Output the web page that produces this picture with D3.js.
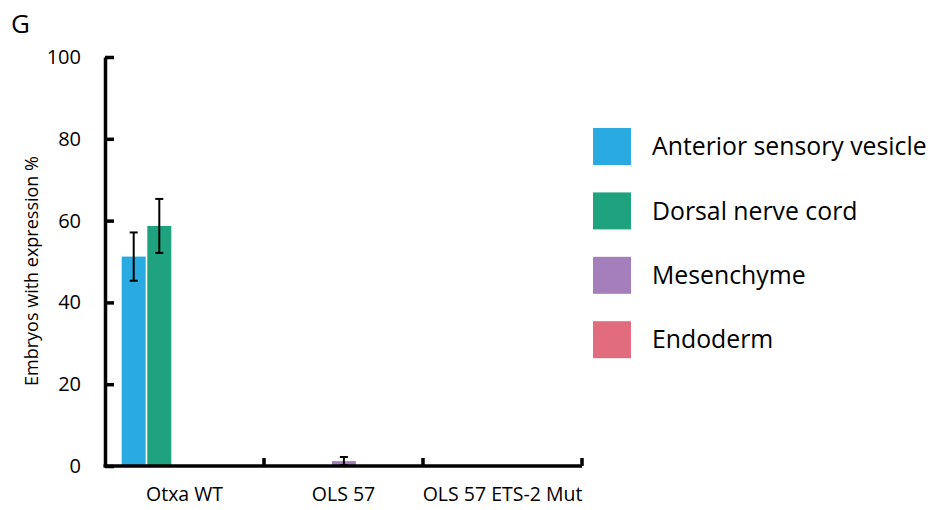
<!DOCTYPE html>
<html>
<head>
<meta charset="utf-8">
<script src="https://cdn.jsdelivr.net/npm/d3@7"></script>
<style>
  html, body { margin: 0; padding: 0; background: #fff; }
  svg { display: block; font-family: "Open Sans", "Noto Sans", sans-serif; }
</style>
</head>
<body>
<svg id="chart" width="932" height="510"></svg>
<script>
// Groups along the x axis
const categories = ["Otxa WT", "OLS 57", "OLS 57 ETS-2 Mut"];
// Expression domains (one bar per domain within each group)
const series = ["Anterior sensory vesicle", "Dorsal nerve cord", "Mesenchyme", "Endoderm"];
const colors = ["#29abe2", "#1fa37e", "#a47fbc", "#e06c7e"];
// Percent of embryos with expression, per series, per group
const asvValues  = [51.2, 0, 0];
const dncValues  = [58.7, 0, 0];
const mesValues  = [0, 1.2, 0];
const endoValues = [0, 0, 0];
// Error bar half-widths
const asvErr  = [5.9, 0, 0];
const dncErr  = [6.6, 0, 0];
const mesErr  = [0, 1.0, 0];
const endoErr = [0, 0, 0];
const yTicks = [0, 20, 40, 60, 80, 100];

const valuesBySeries = [asvValues, dncValues, mesValues, endoValues];
const errBySeries = [asvErr, dncErr, mesErr, endoErr];

const rows = [];
series.forEach((s, si) => {
  categories.forEach((c, ci) => {
    rows.push({ series: s, cat: c, value: valuesBySeries[si][ci], err: errBySeries[si][ci], color: colors[si] });
  });
});

const svg = d3.select("#chart");
const plotLeft = 105, plotRight = 582, plotTop = 57, plotBottom = 466;

const x = d3.scaleBand().domain(categories).range([plotLeft, plotRight]).padding(0);
const inner = d3.scaleBand().domain(series).range([16.7, 117.5]).paddingInner(0.0625);
const y = d3.scaleLinear().domain([0, 100]).range([plotBottom, plotTop]);

// Bars
svg.append("g").selectAll("rect")
  .data(rows.filter(d => d.value > 0))
  .join("rect")
  .attr("x", d => x(d.cat) + inner(d.series))
  .attr("y", d => y(d.value))
  .attr("width", inner.bandwidth())
  .attr("height", d => y(0) - y(d.value))
  .attr("fill", d => d.color);

// Error bars
const eb = svg.append("g").attr("stroke", "#000").attr("stroke-width", 2);
rows.filter(d => d.err > 0).forEach(d => {
  const cx = x(d.cat) + inner(d.series) + inner.bandwidth() / 2;
  const y1 = y(d.value + d.err), y2 = y(Math.max(0, d.value - d.err));
  eb.append("line").attr("x1", cx).attr("x2", cx).attr("y1", y1).attr("y2", y2);
  eb.append("line").attr("x1", cx - 4).attr("x2", cx + 4).attr("y1", y1).attr("y2", y1);
  eb.append("line").attr("x1", cx - 4).attr("x2", cx + 4).attr("y1", y2).attr("y2", y2);
});

// Y axis with inward ticks
const yAxis = svg.append("g")
  .attr("transform", `translate(${plotLeft},0)`)
  .call(d3.axisLeft(y).tickValues(yTicks).tickSizeInner(-9).tickSizeOuter(0).tickPadding(24));
yAxis.select(".domain").attr("stroke-width", 3.5);
yAxis.selectAll(".tick line").attr("stroke-width", 3.5);
yAxis.selectAll("text").attr("font-size", 20).attr("fill", "#000")
  .attr("font-family", "'Open Sans', sans-serif");

// X axis line
const xAxis = svg.append("g")
  .attr("transform", `translate(0,${plotBottom})`)
  .call(d3.axisBottom(x).tickSize(0).tickPadding(21));
xAxis.select(".domain").attr("stroke-width", 3.5).attr("d", `M${plotLeft - 1.5},0H${plotRight}`);
xAxis.selectAll("text").attr("font-size", 19.5).attr("fill", "#000")
  .attr("font-family", "'Open Sans', sans-serif");

// Upward tick marks at the group boundaries
svg.append("g").selectAll("line")
  .data(categories)
  .join("line")
  .attr("x1", d => x(d) + x.bandwidth())
  .attr("x2", d => x(d) + x.bandwidth())
  .attr("y1", plotBottom)
  .attr("y2", plotBottom - 8)
  .attr("stroke", "#000")
  .attr("stroke-width", 3.5);

// Y axis title
svg.append("text")
  .attr("transform", `translate(38,271) rotate(-90)`)
  .attr("text-anchor", "middle")
  .attr("font-size", 18)
  .text("Embryos with expression %");

// Panel letter
svg.append("text")
  .attr("x", 11).attr("y", 33)
  .attr("font-size", 26)
  .text("G");

// Legend
const legend = svg.append("g").selectAll("g")
  .data(series)
  .join("g")
  .attr("transform", (d, i) => `translate(593,${128 + i * 64.4})`);
legend.append("rect")
  .attr("width", 38).attr("height", 37)
  .attr("fill", (d, i) => colors[i]);
legend.append("text")
  .attr("x", 59).attr("y", 18.5)
  .attr("dy", "0.35em")
  .attr("font-size", 24.8)
  .text(d => d);
</script>
</body>
</html>
